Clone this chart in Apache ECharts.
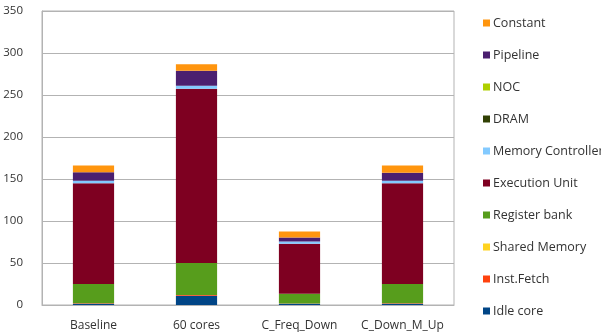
<!DOCTYPE html>
<html>
<head>
<meta charset="utf-8">
<script src="https://cdn.jsdelivr.net/npm/echarts@6/dist/echarts.min.js"></script>
<style>
  html, body { margin: 0; padding: 0; background: #fff; }
  #chart { width: 601px; height: 336px; }
</style>
</head>
<body>
<div id="chart"></div>
<script>
// Configurations along the x axis
const categories = ['Baseline', '60 cores', 'C_Freq_Down', 'C_Down_M_Up'];

// Power breakdown per component, stacked bottom to top
const idleCore         = [1.5, 11, 1.5, 1.5];
const instFetch        = [0.5, 1, 0.3, 0.5];
const sharedMemory     = [0, 0, 0, 0];
const registerBank     = [23, 38, 11.7, 23];
const executionUnit    = [120, 207.5, 59.5, 120];
const memoryController = [3, 3.5, 2.5, 3];
const dram             = [0, 0, 0, 0];
const noc              = [0, 0, 0, 0];
const pipeline         = [10, 18, 5, 9.5];
const constant         = [8, 7.5, 7, 8.5];

const yTicks = [0, 50, 100, 150, 200, 250, 300, 350];

const seriesDefs = [
  { name: 'Idle core',         data: idleCore,         color: '#004586' },
  { name: 'Inst.Fetch',        data: instFetch,        color: '#ff420e' },
  { name: 'Shared Memory',     data: sharedMemory,     color: '#ffd320' },
  { name: 'Register bank',     data: registerBank,     color: '#579d1c' },
  { name: 'Execution Unit',    data: executionUnit,    color: '#7e0021' },
  { name: 'Memory Controller', data: memoryController, color: '#83caff' },
  { name: 'DRAM',              data: dram,             color: '#314004' },
  { name: 'NOC',               data: noc,              color: '#aecf00' },
  { name: 'Pipeline',          data: pipeline,         color: '#4b1f6f' },
  { name: 'Constant',          data: constant,         color: '#ff950e' }
];

const chart = echarts.init(document.getElementById('chart'), null, { renderer: 'canvas' });

const fontFamily = '"Open Sans", "Noto Sans", sans-serif';

chart.setOption({
  animation: false,
  backgroundColor: '#ffffff',
  grid: {
    left: 42, right: 147, top: 11, bottom: 31,
    show: true, borderColor: '#b3b3b3', borderWidth: 1
  },
  legend: {
    orient: 'vertical',
    left: 478,
    top: 11,
    itemWidth: 7,
    itemHeight: 7,
    itemGap: 18,
    icon: 'rect',
    data: seriesDefs.map(s => s.name).reverse(),
    textStyle: { fontFamily, fontSize: 12.5, color: '#333333', lineHeight: 14, padding: [0, 0, 0, -2] }
  },
  xAxis: {
    type: 'category',
    data: categories,
    axisLine: { show: true, lineStyle: { color: '#b3b3b3' } },
    axisTick: { show: false },
    axisLabel: { interval: 0, fontFamily, fontSize: 12, color: '#333333', margin: 15 }
  },
  yAxis: {
    type: 'value',
    min: yTicks[0],
    max: yTicks[yTicks.length - 1],
    interval: 50,
    axisLine: { show: true, lineStyle: { color: '#b3b3b3' } },
    axisTick: { show: false },
    splitLine: { lineStyle: { color: '#b3b3b3' } },
    axisLabel: { fontFamily, fontSize: 11.5, color: '#333333', margin: 19 }
  },
  series: seriesDefs.map(s => ({
    name: s.name,
    type: 'bar',
    stack: 'power',
    barWidth: '40%',
    data: s.data,
    itemStyle: { color: s.color }
  }))
});
</script>
</body>
</html>
